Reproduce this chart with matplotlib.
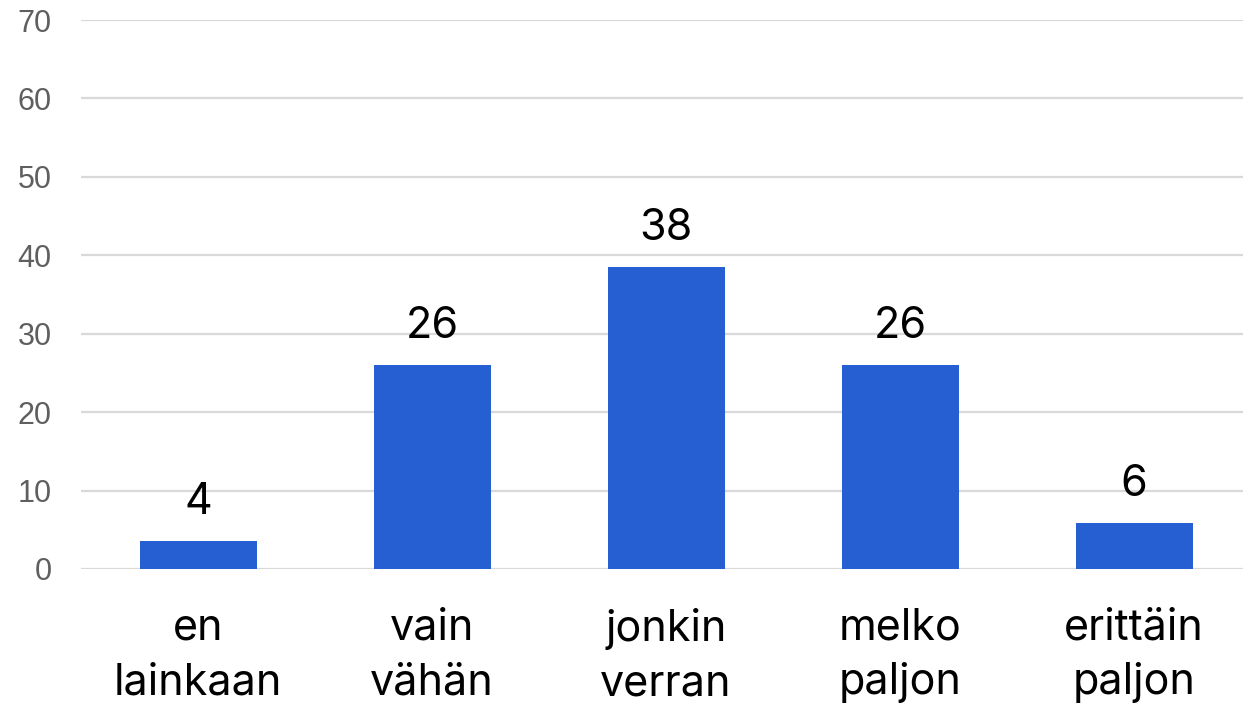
import matplotlib
matplotlib.use("Agg")
import matplotlib.pyplot as plt

# values
categories = ["en\nlainkaan", "vain\nvähän", "jonkin\nverran", "melko\npaljon", "erittäin\npaljon"]
values = [3.6, 26.0, 38.5, 26.0, 5.9]
yticks = [0, 10, 20, 30, 40, 50, 60, 70]

fig = plt.figure(figsize=(12.43, 7.11), dpi=100)
ax = fig.add_axes([81 / 1243, 142 / 711, 1170 / 1243, 549 / 711])

x = list(range(len(categories)))
bars = ax.bar(x, values, width=0.5, color="#265FD1", zorder=3)

for xi, v in zip(x, values):
    ax.annotate(f"{v:.0f}", (xi, v), xytext=(0, 13), textcoords="offset points",
                ha="center", va="bottom", fontsize=31, family="Inter", color="black")

ax.set_xlim(-0.5, 4.5)
ax.set_ylim(0, 70)
ax.set_yticks(yticks)
ax.set_yticklabels([str(t) for t in yticks], family="Liberation Sans",
                   fontsize=22, color="#5f5f5f")
ax.set_xticks(x)
ax.set_xticklabels(categories, family="Inter", fontsize=31, color="black",
                   linespacing=1.42)
ax.tick_params(axis="x", length=0, pad=28)
ax.tick_params(axis="y", length=0, pad=21)

ax.grid(axis="y", color="#d9d9d9", linewidth=1.6, zorder=0)
for s in ax.spines.values():
    s.set_visible(False)

fig.savefig("out.png", dpi=100)
